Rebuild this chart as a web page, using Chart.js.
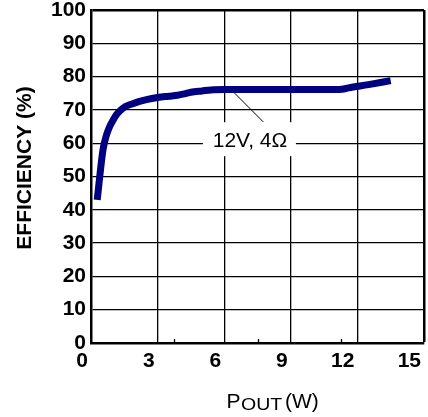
<!DOCTYPE html>
<html>
<head>
<meta charset="utf-8">
<script src="https://cdn.jsdelivr.net/npm/chart.js@4.4.0/dist/chart.umd.min.js"></script>
<style>
  html, body { margin: 0; padding: 0; background: #ffffff; }
  #wrap { width: 428px; height: 417px; }
</style>
</head>
<body>
<div id="wrap"><canvas id="c" width="428" height="417"></canvas></div>
<script>
// ---- data ----
const poutW = [0.28, 0.54, 0.7, 0.84, 1.0, 1.14, 1.35, 1.55, 1.85, 2.15, 2.5, 3.0, 3.5, 3.9, 4.2, 4.5, 5.0, 5.4, 6.0, 7.0, 8.0, 9.0, 10.0, 11.0, 11.3, 11.6, 12.5, 13.5];
const efficiency = [43, 58, 62.5, 65, 67, 68.5, 70, 71, 71.8, 72.5, 73.1, 73.7, 74.1, 74.4, 74.8, 75.3, 75.7, 76, 76.1, 76.1, 76.1, 76.1, 76.1, 76.1, 76.2, 76.6, 77.6, 78.8];
const seriesLabel = "12V, 4Ω";
const xTicks = [0, 3, 6, 9, 12, 15];
const xMinorTicks = [3.75, 7.5, 11.25];
const yTicks = [0, 10, 20, 30, 40, 50, 60, 70, 80, 90, 100];
const yTitle = "EFFICIENCY (%)";
const xTitleMain = "P";
const xTitleSub = "OUT";
const xTitleTail = "(W)";
// annotation anchor (data coords): where the leader touches the curve
const leaderFrom = { x: 6.34, y: 75.9 };
const leaderTo = { x: 7.76, y: 66.4 };

const points = poutW.map((x, i) => ({ x: x, y: efficiency[i] }));

const annotationPlugin = {
  id: 'annot',
  beforeDatasetsDraw(chart) {
    const ctx = chart.ctx;
    const xs = chart.scales.x, ys = chart.scales.y;
    ctx.save();
    // white label box (covers grid)
    const bx0 = xs.getPixelForValue(5.04), bx1 = xs.getPixelForValue(9.23);
    const by0 = ys.getPixelForValue(66.3), by1 = ys.getPixelForValue(56.1);
    ctx.fillStyle = '#ffffff';
    ctx.fillRect(bx0, by0, bx1 - bx0, by1 - by0);
    // leader line
    ctx.strokeStyle = '#000000';
    ctx.lineWidth = 1;
    ctx.beginPath();
    ctx.moveTo(xs.getPixelForValue(leaderFrom.x), ys.getPixelForValue(leaderFrom.y));
    ctx.lineTo(xs.getPixelForValue(leaderTo.x), ys.getPixelForValue(leaderTo.y));
    ctx.stroke();
    // minor ticks on bottom axis
    ctx.lineWidth = 1.3;
    const yb = ys.getPixelForValue(0);
    xMinorTicks.forEach(v => {
      const px = Math.round(xs.getPixelForValue(v)) + 0.5;
      ctx.beginPath();
      ctx.moveTo(px, yb);
      ctx.lineTo(px, yb - 4);
      ctx.stroke();
    });
    // label
    ctx.fillStyle = '#000000';
    ctx.font = '21px "Liberation Sans", Arial, sans-serif';
    ctx.textAlign = 'center';
    ctx.textBaseline = 'alphabetic';
    ctx.fillText(seriesLabel, xs.getPixelForValue(7.16), ys.getPixelForValue(58.8));
    ctx.restore();
  },
  afterDraw(chart) {
    const ctx = chart.ctx;
    ctx.save();
    ctx.fillStyle = '#000000';
    // y title
    ctx.translate(25, 168);
    ctx.rotate(-Math.PI / 2);
    ctx.font = 'bold 21px "Liberation Sans", Arial, sans-serif';
    ctx.textAlign = 'center';
    ctx.textBaseline = 'middle';
    ctx.fillText(yTitle, 0, 0);
    ctx.restore();
    // x title with subscript
    ctx.save();
    ctx.fillStyle = '#000000';
    ctx.textAlign = 'left';
    ctx.textBaseline = 'alphabetic';
    ctx.font = '21px "Liberation Sans", Arial, sans-serif';
    ctx.fillText(xTitleMain, 226.5, 408);
    ctx.save();
    ctx.translate(241, 410);
    ctx.scale(1.22, 1);
    ctx.font = '16px "Liberation Sans", Arial, sans-serif';
    ctx.fillText(xTitleSub, 0, 0);
    ctx.restore();
    ctx.font = '21px "Liberation Sans", Arial, sans-serif';
    ctx.fillText(xTitleTail, 285, 408);
    ctx.restore();
  }
};

const edgeWidth = 2.5, innerWidth = 1.3;

new Chart(document.getElementById('c'), {
  type: 'line',
  data: {
    datasets: [{
      label: seriesLabel,
      data: points,
      borderColor: '#000080',
      backgroundColor: '#000080',
      borderWidth: 7,
      pointRadius: 0,
      cubicInterpolationMode: 'monotone',
      fill: false,
      borderCapStyle: 'butt',
      borderJoinStyle: 'round'
    }]
  },
  options: {
    responsive: false,
    animation: false,
    events: [],
    layout: { padding: { top: 10, right: 4, left: 0, bottom: 0 } },
    plugins: { legend: { display: false }, tooltip: { enabled: false }, title: { display: false } },
    scales: {
      x: {
        type: 'linear',
        min: 0, max: 15,
        afterBuildTicks: s => { s.ticks = xTicks.map(v => ({ value: v })); },
        afterFit: s => { s.height = 74; s.paddingLeft = 0; s.paddingRight = 0; },
        grid: {
          color: '#000000',
          lineWidth: c => (c.tick && (c.tick.value === 15)) ? edgeWidth : innerWidth,
          drawTicks: false
        },
        border: { display: true, color: '#000000', width: edgeWidth },
        ticks: {
          color: '#000000',
          font: { family: '"Liberation Sans", Arial, sans-serif', size: 21, weight: 'bold' },
          padding: 6,
          align: 'end',
          labelOffset: -3,
          maxRotation: 0,
          autoSkip: false
        }
      },
      y: {
        type: 'linear',
        min: 0, max: 100,
        afterBuildTicks: s => { s.ticks = yTicks.map(v => ({ value: v })); },
        afterFit: s => { s.width = 91; s.paddingTop = 0; s.paddingBottom = 0; },
        grid: {
          color: '#000000',
          lineWidth: c => (c.tick && (c.tick.value === 100)) ? edgeWidth : innerWidth,
          drawTicks: false
        },
        border: { display: true, color: '#000000', width: edgeWidth },
        ticks: {
          color: '#000000',
          font: { family: '"Liberation Sans", Arial, sans-serif', size: 21, weight: 'bold' },
          padding: 5,
          autoSkip: false
        }
      }
    }
  },
  plugins: [annotationPlugin]
});
</script>
</body>
</html>
